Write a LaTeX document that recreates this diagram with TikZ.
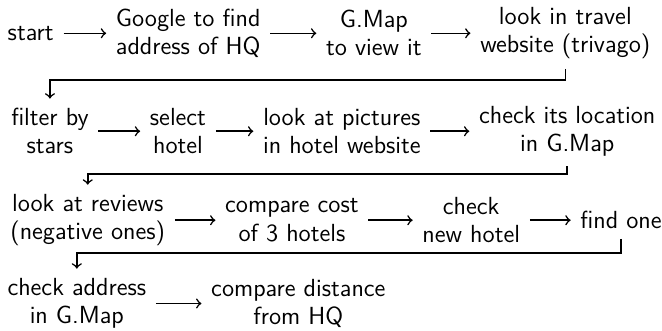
\documentclass[tikz,border=0pt]{standalone}
\usepackage{tikz}

\begin{document}
\begin{tikzpicture}[>=to,line width=0.7pt,
  stagebox/.style={align=center,font=\sffamily\fontsize{11}{12.5}\selectfont,inner sep=4pt}]
\useasboundingbox (0,0) rectangle (10.34,-5.17);
% first row
\node[stagebox] (start) at (0.48,-0.52) {start};
\node[stagebox] (google) at (2.94,-0.52) {Google to find\\address of HQ};
\node[stagebox] (gmap) at (5.84,-0.52) {G.Map\\to view it};
\node[stagebox] (travel) at (8.83,-0.52) {look in travel\\website (trivago)};
% second row
\node[stagebox] (stars) at (0.78,-2.05) {filter by\\stars};
\node[stagebox] (select) at (2.78,-2.05) {select\\hotel};
\node[stagebox] (pictures) at (5.34,-2.05) {look at pictures\\in hotel website};
\node[stagebox] (location) at (8.86,-2.05) {check its location\\in G.Map};
% third row
\node[stagebox] (reviews) at (1.37,-3.44) {look at reviews\\(negative ones)};
\node[stagebox] (cost) at (4.56,-3.44) {compare cost\\of 3 hotels};
\node[stagebox] (newhotel) at (7.36,-3.44) {check\\new hotel};
\node[stagebox] (findone) at (9.70,-3.44) {find one};
% fourth row
\node[stagebox] (address) at (1.20,-4.74) {check address\\in G.Map};
\node[stagebox] (distance) at (4.66,-4.74) {compare distance\\from HQ};
\draw[->] (start) -- (google);
\draw[->] (google) -- (gmap);
\draw[->] (gmap) -- (travel);
\draw[->] (travel.south) -- ++(0,-0.17) -| (stars.north);
\draw[->] (stars) -- (select);
\draw[->] (select) -- (pictures);
\draw[->] (pictures) -- (location);
\draw[->] (location.south) -- ++(0,-0.12) -| (reviews.north);
\draw[->] (reviews) -- (cost);
\draw[->] (cost) -- (newhotel);
\draw[->] (newhotel) -- (findone);
\draw[->] (findone.south) -- ++(0,-0.22) -| (address.north);
\draw[->] (address) -- (distance);
\end{tikzpicture}
\end{document}
